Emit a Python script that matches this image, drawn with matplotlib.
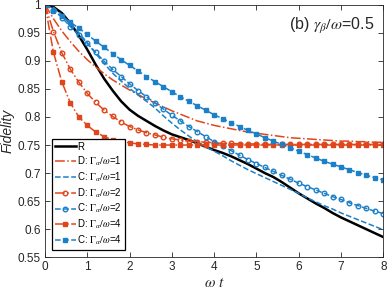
import numpy as np
import matplotlib
matplotlib.use('Agg')
import matplotlib.pyplot as plt

plt.rcParams['font.family'] = ['Liberation Sans', 'DejaVu Sans']
plt.rcParams['mathtext.fontset'] = 'stix'

# time axis (omega t), sampled every 0.2
t = np.round(np.arange(41) * 0.2, 1)

# R: black solid
fid_R = [1.000, 0.996, 0.985, 0.967, 0.945, 0.920, 0.893, 0.868, 0.847, 0.828,
         0.813, 0.802, 0.793, 0.784, 0.776, 0.769, 0.764, 0.759, 0.753, 0.747,
         0.741, 0.736, 0.730, 0.723, 0.716, 0.708, 0.700, 0.693, 0.684, 0.674,
         0.664, 0.655, 0.646, 0.638, 0.629, 0.621, 0.614, 0.607, 0.600, 0.593,
         0.586]

# D: Gamma_alpha/omega = 1, 2, 4
fid_D1 = [1.000, 0.975, 0.953, 0.934, 0.917, 0.902, 0.889, 0.877, 0.866, 0.857,
          0.848, 0.840, 0.832, 0.825, 0.818, 0.811, 0.805, 0.799, 0.793, 0.789,
          0.785, 0.782, 0.779, 0.776, 0.773, 0.771, 0.769, 0.767, 0.765, 0.763,
          0.762, 0.761, 0.760, 0.759, 0.758, 0.757, 0.757, 0.756, 0.756, 0.755,
          0.755]
fid_D2 = [1.000, 0.952, 0.914, 0.885, 0.862, 0.842, 0.826, 0.812, 0.801, 0.791,
          0.783, 0.777, 0.772, 0.768, 0.764, 0.761, 0.759, 0.757, 0.756, 0.755,
          0.754, 0.753, 0.753, 0.752, 0.752, 0.752, 0.751, 0.751, 0.751, 0.751,
          0.751, 0.751, 0.751, 0.751, 0.751, 0.751, 0.751, 0.751, 0.751, 0.751,
          0.751]
fid_D4 = [1.000, 0.915, 0.862, 0.825, 0.800, 0.785, 0.773, 0.765, 0.759, 0.756,
          0.754, 0.752, 0.751, 0.750, 0.750, 0.750, 0.750, 0.750, 0.750, 0.750,
          0.750, 0.750, 0.750, 0.750, 0.750, 0.750, 0.750, 0.750, 0.750, 0.750,
          0.750, 0.750, 0.750, 0.750, 0.750, 0.750, 0.750, 0.750, 0.750, 0.750,
          0.750]

# C: Gamma_alpha/omega = 1, 2, 4
fid_C1 = [1.000, 0.995, 0.982, 0.966, 0.950, 0.932, 0.913, 0.895, 0.878, 0.864,
          0.851, 0.839, 0.828, 0.816, 0.802, 0.789, 0.777, 0.766, 0.756, 0.747,
          0.739, 0.731, 0.722, 0.714, 0.706, 0.699, 0.692, 0.685, 0.678, 0.671,
          0.664, 0.656, 0.649, 0.642, 0.636, 0.629, 0.623, 0.617, 0.611, 0.605,
          0.599]
fid_C2 = [1.000, 0.991, 0.977, 0.961, 0.946, 0.931, 0.915, 0.899, 0.885, 0.872,
          0.859, 0.847, 0.836, 0.825, 0.814, 0.803, 0.793, 0.783, 0.774, 0.765,
          0.756, 0.748, 0.740, 0.732, 0.724, 0.717, 0.710, 0.703, 0.696, 0.689,
          0.682, 0.676, 0.670, 0.664, 0.658, 0.653, 0.647, 0.642, 0.637, 0.632,
          0.628]
fid_C4 = [1.000, 0.989, 0.979, 0.969, 0.958, 0.947, 0.935, 0.924, 0.913, 0.902,
          0.892, 0.882, 0.872, 0.863, 0.854, 0.845, 0.836, 0.828, 0.820, 0.812,
          0.804, 0.797, 0.790, 0.783, 0.776, 0.770, 0.763, 0.757, 0.751, 0.745,
          0.739, 0.733, 0.727, 0.721, 0.716, 0.711, 0.706, 0.701, 0.696, 0.692,
          0.688]

rot = '#E0461B'
blau = '#1C80C8'
achsen = '#262626'

fig = plt.figure(figsize=(3.88, 2.91), dpi=100)
ax = fig.add_axes([45/388, 1-257.3/291, 338.3/388, 252.6/291])

ax.plot(t, fid_R, color='k', lw=1.8, label='R')
ax.plot(t, fid_D1, color=rot, ls='-.', lw=1.1, label=r'D: $\Gamma_\alpha/\omega$=1')
ax.plot(t, fid_C1, color=blau, ls='--', lw=1.1, label=r'C: $\Gamma_\alpha/\omega$=1')
ax.plot(t, fid_D2, color=rot, ls='-.', lw=1.1, marker='o', ms=3.3, mfc='none', mew=1.0,
        label=r'D: $\Gamma_\alpha/\omega$=2')
ax.plot(t, fid_C2, color=blau, ls='--', lw=1.1, marker='o', ms=3.3, mfc='none', mew=1.0,
        label=r'C: $\Gamma_\alpha/\omega$=2')
ax.plot(t, fid_D4, color=rot, ls='-.', lw=1.1, marker='s', ms=2.8,
        label=r'D: $\Gamma_\alpha/\omega$=4')
ax.plot(t, fid_C4, color=blau, ls='--', lw=1.1, marker='s', ms=2.8,
        label=r'C: $\Gamma_\alpha/\omega$=4')

ax.set_xlim(0, 8)
ax.set_ylim(0.55, 1)
ax.set_xticks(range(9))
ax.set_yticks([0.55, 0.6, 0.65, 0.7, 0.75, 0.8, 0.85, 0.9, 0.95, 1])
ax.set_yticklabels(['0.55', '0.6', '0.65', '0.7', '0.75', '0.8', '0.85', '0.9', '0.95', '1'])
ax.tick_params(direction='in', top=True, right=True, length=3.5, width=0.6,
               labelsize=8.5, colors=achsen, pad=3)
for s in ax.spines.values():
    s.set_color(achsen)
    s.set_linewidth(0.6)

ax.set_xlabel(r'$\omega\ t$', fontsize=11, color=achsen, labelpad=2)
ax.set_ylabel('Fidelity', fontsize=10, style='italic', color=achsen, labelpad=2)

ax.text(0.973, 0.915, r'(b) $\gamma_\beta/\omega$=0.5', transform=ax.transAxes,
        ha='right', va='center', fontsize=11.5, color=achsen)

leg = ax.legend(loc='lower left', bbox_to_anchor=(0.02, 0.028), borderaxespad=0,
                fontsize=7, handlelength=2.2, handletextpad=0.1, labelspacing=0.25,
                borderpad=0.3, fancybox=False, framealpha=1)
leg.get_frame().set_edgecolor('k')
leg.get_frame().set_linewidth(0.9)

plt.savefig('out.png', dpi=100)
